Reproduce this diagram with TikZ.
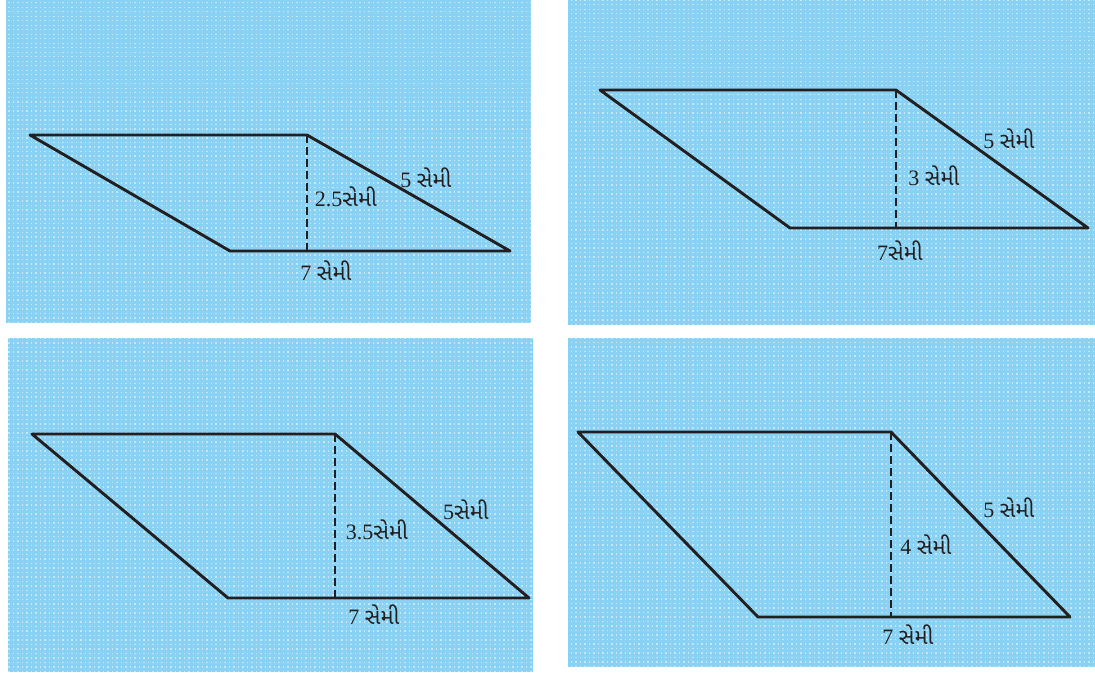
\documentclass[tikz,border=0pt]{standalone}
\usepackage{fontspec}
\setmainfont{Liberation Serif}
\newfontfamily\guj[Script=Gujarati]{Noto Sans Gujarati UI}
\definecolor{PanelBlue}{HTML}{8AD2F3}
\definecolor{EdgeInk}{HTML}{231F20}
\tikzset{edge/.style={EdgeInk,line width=2.9pt,line join=round},heightline/.style={EdgeInk,line width=2.7pt,dash pattern=on 8pt off 4pt},lab/.style={font=\fontsize{22}{24}\selectfont,inner sep=0pt,text=EdgeInk},dots/.style={white,opacity=.5,line width=1.2pt,dash pattern=on 1.2pt off 3.3pt}}

\begin{document}
\begin{tikzpicture}[x=1pt,y=-1pt]
\useasboundingbox (0,0) rectangle (1095,674);
\foreach \xa/\ya/\xb/\yb in {6/0/531/323,568/0/1095/325,8/338/533/672,568/338/1095/667}{
\fill[PanelBlue] (\xa,\ya) rectangle (\xb,\yb);
\begin{scope}
\clip (\xa,\ya) rectangle (\xb,\yb);
\draw[dots,step=4.5] (\xa,\ya) grid (\xb,\yb);
\end{scope}}
\foreach \n/\ax/\ay/\bx/\cx/\cy/\dx in {1/30/135/307/510/251/230,2/600/90/896/1088/228/790,3/32/434/335/529/598/228,4/578/432/891/1070/617/758}{
\coordinate (A\n) at (\ax,\ay);
\coordinate (B\n) at (\bx,\ay);
\coordinate (C\n) at (\cx,\cy);
\coordinate (D\n) at (\dx,\cy);
\coordinate (H\n) at (\bx,\cy);
\draw[edge] (A\n)--(B\n)--(C\n)--(D\n)--cycle;
\draw[heightline] (B\n)--(H\n);}
% labels
\node[lab] (h1) at (346,197) {2.5{\guj સેમી}};
\node[lab] (s1) at (426,178) {5 {\guj સેમી}};
\node[lab] (b1) at (326,271) {7 {\guj સેમી}};
\node[lab] (h2) at (934,176) {3 {\guj સેમી}};
\node[lab] (s2) at (1009,139) {5 {\guj સેમી}};
\node[lab] (b2) at (900,251) {7{\guj સેમી}};
\node[lab] (h3) at (377,530) {3.5{\guj સેમી}};
\node[lab] (s3) at (466,510) {5{\guj સેમી}};
\node[lab] (b3) at (374,615) {7 {\guj સેમી}};
\node[lab] (h4) at (926,545) {4 {\guj સેમી}};
\node[lab] (s4) at (1009,508) {5 {\guj સેમી}};
\node[lab] (b4) at (908,635) {7 {\guj સેમી}};
\end{tikzpicture}
\end{document}
